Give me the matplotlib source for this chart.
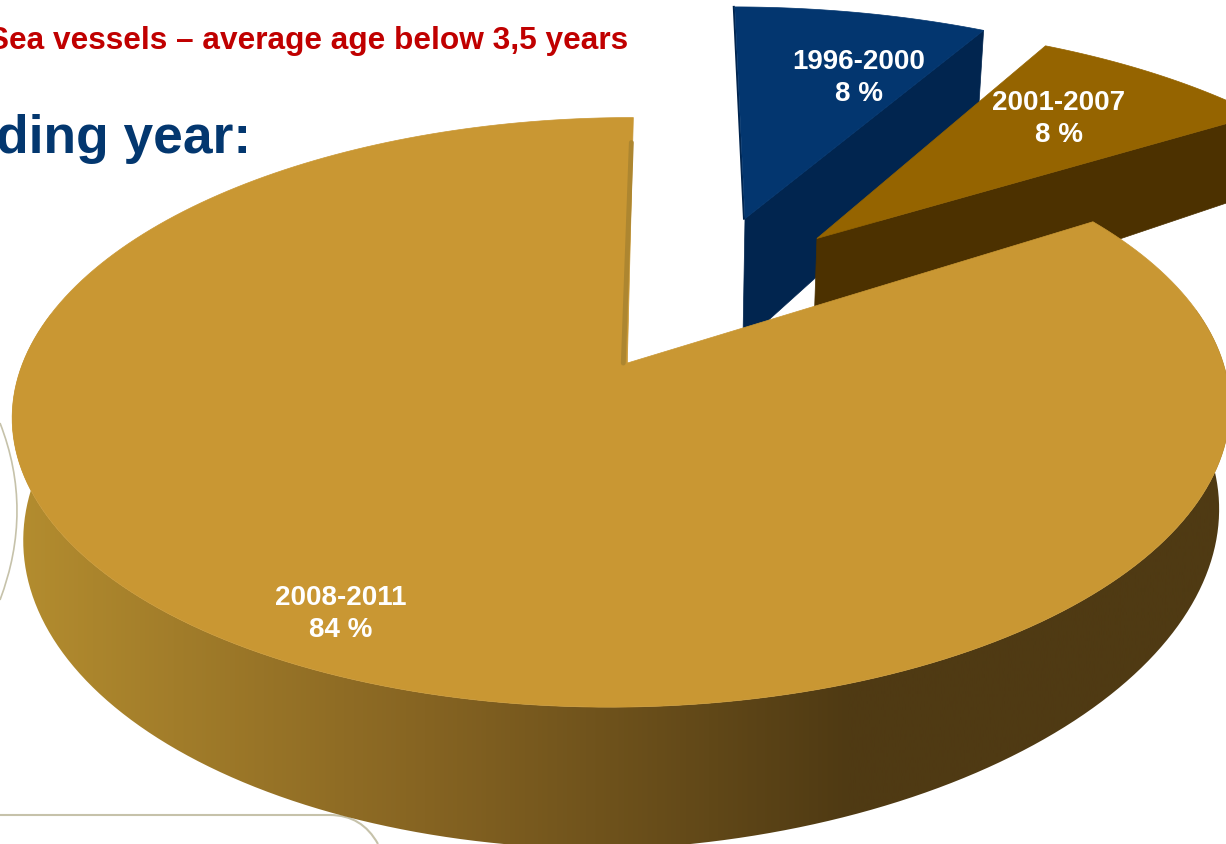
import matplotlib
matplotlib.use("Agg")
import matplotlib.pyplot as plt
import numpy as np
from matplotlib.colors import LinearSegmentedColormap
from matplotlib.patches import PathPatch, Polygon
from matplotlib.path import Path

# values, clockwise from 12 o'clock
periods = ["1996-2000", "2001-2007", "2008-2011"]
shares = [8, 8, 84]

top_colors = ["#03366F", "#956400", "#C99733"]
wall_colors = ["#01254F", "#4C3100", None]
explode = [(0.208, 0.55), (0.336, 0.468), (0.0, 0.0)]
stretch = [(1.07, 1.02), (1.055, 1.02), (1.0, 1.0)]
depths = [140, 118, 118]
label_pos = [(859, 78), (1059, 119), (341, 614)]

# plane of the pie (unit circle) -> picture, the tilted view of the 3D chart
plane_pts = [(0, 0), (0, 1), (0, -1), (-1, 0), (1, 0), (0.8443, 0.5358)]
pict_pts = [(628, 362), (640, 113), (617, 698), (20, 372), (1235, 372), (1077, 218)]
SHRINK = 0.982
TILT = 0.03


def fit_view(src, dst):
    rows = []
    for (u, v), (x, y) in zip(src, dst):
        x, y = x / 1000, y / 1000
        rows.append([u, v, 1, 0, 0, 0, -x * u, -x * v, -x])
        rows.append([0, 0, 0, u, v, 1, -y * u, -y * v, -y])
    h = np.linalg.svd(np.array(rows))[2][-1].reshape(3, 3)
    return h / h[2, 2]


view = fit_view(plane_pts, pict_pts)


def project(u, v, depth=0):
    u, v = np.asarray(u, float), np.asarray(v, float)
    w = view[2, 0] * u + view[2, 1] * v + 1
    x = 1000 * (view[0, 0] * u + view[0, 1] * v + view[0, 2]) / w
    y = 1000 * (view[1, 0] * u + view[1, 1] * v + view[1, 2]) / w
    if depth:
        x = 628 + (x - 628) * SHRINK
        y = y + depth / w - TILT * np.clip(x - 628, 0, None)
    return np.column_stack([x, y])


def slice_outline(start, stop, offset, radius):
    theta = np.radians(np.linspace(start, stop, 240))
    u = offset[0] + radius[0] * np.sin(theta)
    v = offset[1] + radius[1] * np.cos(theta)
    return u, v


fig = plt.figure(figsize=(12.26, 8.44), dpi=100)
ax = fig.add_axes([0, 0, 1, 1])
ax.set_xlim(0, 1226)
ax.set_ylim(844, 0)
ax.axis("off")
plt.rcParams["font.family"] = ["Liberation Sans", "DejaVu Sans"]

# slide furniture behind the chart
frame = "#C6C2AA"
ax.add_patch(PathPatch(Path([(0, 423), (34, 510), (0, 600)], [1, 3, 3]), fc="none", ec=frame, lw=1.2))
ax.add_patch(PathPatch(Path([(0, 815), (330, 815), (362, 815), (378, 844)], [1, 2, 3, 3]),
                       fc="none", ec=frame, lw=1.5))

ax.text(628, 41, "Sea vessels \u2013 average age below 3,5 years", color="#C00000", fontsize=22.8,
        fontweight="bold", ha="right", va="center")
ax.text(251, 139, "ding year:", color="#03376F", fontsize=38.4, fontweight="bold",
        ha="right", va="center")

wall_cmap = LinearSegmentedColormap.from_list(
    "wall", [(0, "#B48D2F"), (0.34, "#866422"), (0.69, "#4F3A13"), (1, "#4F3A13")])

starts = np.cumsum([0] + shares[:-1]) * 3.6
z = 1
for i, share in enumerate(shares):
    start = starts[i]
    stop = start + share * 3.6
    offset = explode[i]
    u, v = slice_outline(start, stop, offset, stretch[i])
    rim = project(u, v)
    apex = project([offset[0]], [offset[1]])
    if wall_colors[i] is not None:
        # front edge of the pulled out slices, running from the apex to the last rim point
        wall = np.vstack([apex, rim[-1:], project(u[-1:], v[-1:], depths[i]),
                          project([offset[0]], [offset[1]], depths[i])])
        ax.add_patch(Polygon(wall, closed=True, fc=wall_colors[i], ec=wall_colors[i], lw=0.5, zorder=z))
        if i == 0:
            # left side sliver of the blue slice
            ax.plot([apex[0, 0] - 1, rim[0, 0] - 1], [apex[0, 1], rim[0, 1]], color=wall_colors[i], lw=1.5, zorder=z)
    else:
        # only the front part of the rim can be seen
        front = v < 0.2
        wall = np.vstack([rim[front], project(u[front], v[front], depths[i])[::-1]])
        patch = Polygon(wall, closed=True, fc="none", ec="none", zorder=z)
        ax.add_patch(patch)
        shade = ax.imshow(np.linspace(0, 1, 512).reshape(1, -1), extent=(12, 1226, 844, 0), aspect="auto",
                          cmap=wall_cmap, zorder=z)
        shade.set_clip_path(patch)
        ax.set_xlim(0, 1226)
        ax.set_ylim(844, 0)
    ax.add_patch(Polygon(np.vstack([apex, rim]), closed=True, fc=top_colors[i], ec=top_colors[i], lw=0.5,
                         zorder=z + 1))
    if wall_colors[i] is None:
        # inner wall seen edge on, along the radius at 12 o'clock
        ax.plot([apex[0, 0] - 4, rim[-1, 0] - 2], [apex[0, 1], rim[-1, 1] + 25], color="#AD8630", lw=3.5,
                solid_capstyle="round", zorder=z + 2)
    z += 3

for i, period in enumerate(periods):
    ax.text(label_pos[i][0], label_pos[i][1], f"{period}\n{shares[i]} %", color="white", fontsize=20,
            fontweight="bold", ha="center", va="center", linespacing=1.33, zorder=20)

fig.savefig("out.png", dpi=100)
